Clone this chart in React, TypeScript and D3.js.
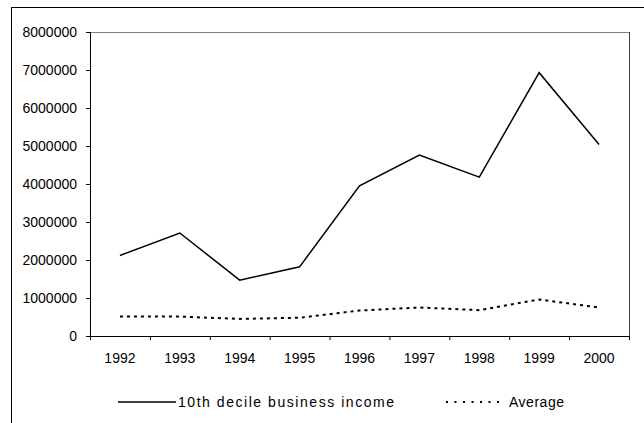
import React from "react";
import * as d3 from "d3";

const years = ["1992", "1993", "1994", "1995", "1996", "1997", "1998", "1999", "2000"];
const topDecile = [2120000, 2710000, 1470000, 1820000, 3950000, 4760000, 4180000, 6930000, 5040000];
const average = [510000, 510000, 450000, 480000, 670000, 750000, 680000, 960000, 750000];
const yTicks = [0, 1000000, 2000000, 3000000, 4000000, 5000000, 6000000, 7000000, 8000000];

const W = 644;
const H = 423;
const plot = { left: 90, right: 629, top: 32, bottom: 336 };
const font = "'Liberation Sans', Arial, sans-serif";

export default function App() {
  const x = d3.scaleBand<string>().domain(years).range([plot.left, plot.right]);
  const y = d3.scaleLinear().domain([0, 8000000]).range([plot.bottom, plot.top]);
  const line = d3
    .line<number>()
    .x((_, i) => (x(years[i]) ?? 0) + x.bandwidth() / 2)
    .y((d) => y(d));

  const bounds = [...years.map((yr) => x(yr) ?? 0), plot.right];

  return (
    <svg
      width={W}
      height={H}
      style={{ position: "absolute", left: 0, top: 0, background: "#fff" }}
      fontFamily={font}
    >
      <rect x={11.5} y={7.5} width={700} height={600} fill="#fff" stroke="#000" strokeWidth={1} />
      {/* plot area frame */}
      <line x1={plot.left} x2={plot.right} y1={plot.top + 0.5} y2={plot.top + 0.5} stroke="#808080" />
      <line x1={plot.right + 0.5} x2={plot.right + 0.5} y1={plot.top} y2={plot.bottom} stroke="#404040" />
      {/* y axis */}
      <line x1={plot.left + 0.5} x2={plot.left + 0.5} y1={plot.top} y2={plot.bottom} stroke="#000" />
      {yTicks.map((t) => (
        <g key={t}>
          <line x1={plot.left - 4} x2={plot.left} y1={Math.round(y(t)) + 0.5} y2={Math.round(y(t)) + 0.5} stroke="#000" />
          <text x={77} y={y(t)} dy="0.35em" textAnchor="end" fontSize={14} fill="#000">
            {t}
          </text>
        </g>
      ))}
      {/* x axis */}
      <line x1={plot.left} x2={plot.right + 1} y1={plot.bottom + 0.5} y2={plot.bottom + 0.5} stroke="#000" />
      {bounds.map((b, i) => (
        <line key={i} x1={b + 0.5} x2={b + 0.5} y1={plot.bottom} y2={plot.bottom + 4} stroke="#000" />
      ))}
      {years.map((yr) => (
        <text key={yr} x={(x(yr) ?? 0) + x.bandwidth() / 2} y={358} dy="0.35em" textAnchor="middle" fontSize={14} fill="#000">
          {yr}
        </text>
      ))}
      {/* series */}
      <path d={line(topDecile) ?? ""} fill="none" stroke="#000" strokeWidth={1.5} />
      <path d={line(average) ?? ""} fill="none" stroke="#000" strokeWidth={2} strokeDasharray="3,4" />
      {/* legend */}
      <line x1={118} x2={176} y1={402} y2={402} stroke="#000" strokeWidth={1.5} />
      <text x={178} y={402} dy="0.35em" fontSize={14} fill="#000" textLength={216} lengthAdjust="spacing">
        10th decile business income
      </text>
      <line x1={446} x2={504} y1={402} y2={402} stroke="#000" strokeWidth={2} strokeDasharray="2,6.5" />
      <text x={509} y={402} dy="0.35em" fontSize={14} fill="#000" textLength={55} lengthAdjust="spacing">
        Average
      </text>
    </svg>
  );
}
